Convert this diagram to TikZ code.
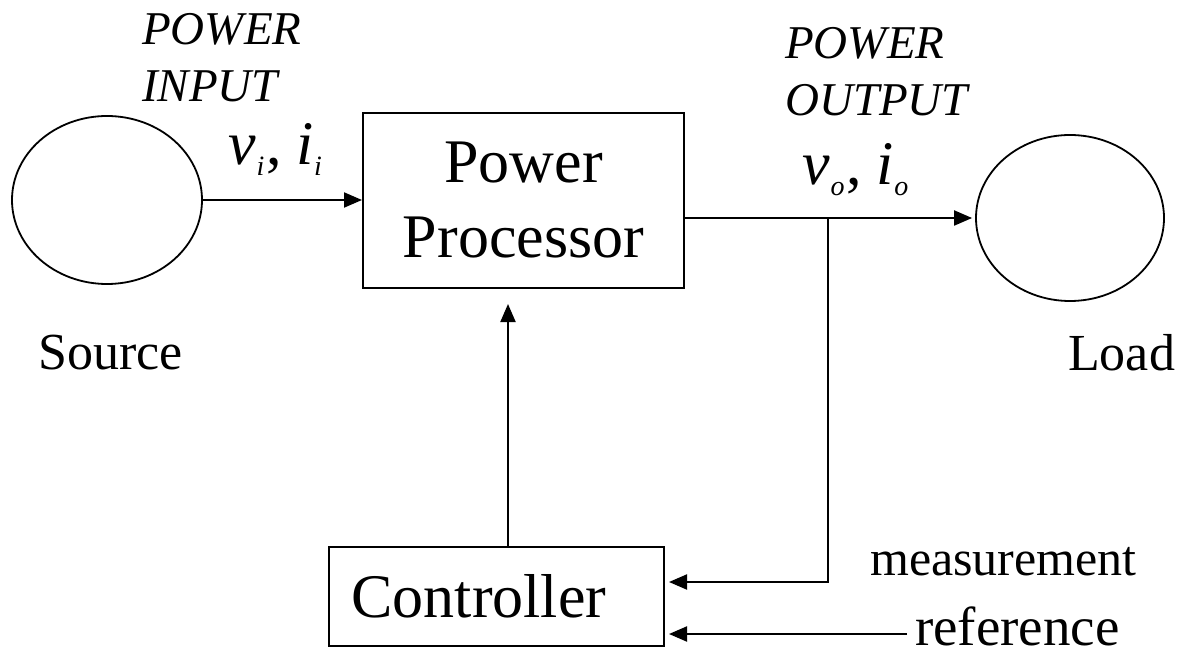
\documentclass[tikz,border=0pt]{standalone}
\usepackage{fontspec}
\setmainfont{Liberation Serif}
\usetikzlibrary{arrows.meta,shapes.geometric}
\newcommand\lowsub[1]{\raisebox{-11pt}{\fontsize{28}{28}\selectfont\itshape #1}}
\begin{document}
\begin{tikzpicture}[x=1pt,y=-1pt,
  every node/.style={inner sep=0pt},
  ln/.style={line width=2pt},
  arr/.style={ln,-{Triangle[length=18pt,width=15pt]}},
  circ/.style={ellipse,draw,line width=1.8pt},
  boxnode/.style={rectangle,draw,line width=2pt},
  capital/.style={font=\fontsize{47}{57}\selectfont\itshape,align=left},
  big/.style={font=\fontsize{62}{75}\selectfont},
  mid/.style={font=\fontsize{52}{60}\selectfont},
  var/.style={font=\fontsize{62}{62}\selectfont\itshape}]
\useasboundingbox (0,0) rectangle (1180,660);
% nodes
\node[circ,minimum width=190pt,minimum height=168pt] (src) at (107,200) {};
\node[circ,minimum width=188pt,minimum height=166pt] (load) at (1070,218) {};
\node[boxnode,big,align=center,minimum width=321pt,minimum height=175pt] (pp) at (523.5,200.5) {Power\\Processor};
\node[boxnode,big,minimum width=335pt,minimum height=99pt,text width=290pt,align=left,inner xsep=22pt] (ctrl) at (496.5,596.5) {Controller};
% labels
\node[capital,anchor=north west] (pin) at (142,13) {POWER\\INPUT};
\node[capital,anchor=north west] (pout) at (785,27) {POWER\\OUTPUT};
\node[var,anchor=base west] (vi) at (228,165) {v\kern1pt\lowsub{i}\kern2pt\upshape,\kern14pt\itshape i\kern1pt\lowsub{i}};
\node[var,anchor=base west] (vo) at (802,185) {v\kern1pt\lowsub{o}\kern2pt\upshape,\kern14pt\itshape i\kern1pt\lowsub{o}};
\node[mid,anchor=base west] (srcl) at (38,369) {Source};
\node[mid,anchor=base west] (loadl) at (1068,370) {Load};
\node[font=\fontsize{50}{50}\selectfont,anchor=base west] (meas) at (870,575) {measurement};
\node[font=\fontsize{55}{55}\selectfont,anchor=base west] (refl) at (915,645) {reference};
% coordinates
\coordinate (tap) at (828,218);
\coordinate (m) at (828,582);
\coordinate (r) at (907,634);
\coordinate (cu) at (508,547);
% connectors
\draw[arr] (src.east) -- (src.east -| pp.west);
\draw[arr,shorten >=3pt] (tap -| pp.east) -- (load.west);
\draw[arr,shorten >=4pt] (tap) -- (m) -- (m -| ctrl.east);
\draw[arr,shorten >=4pt] (r) -- (r -| ctrl.east);
\draw[arr,shorten >=15pt] (cu) -- (cu |- pp.south);
\end{tikzpicture}
\end{document}
